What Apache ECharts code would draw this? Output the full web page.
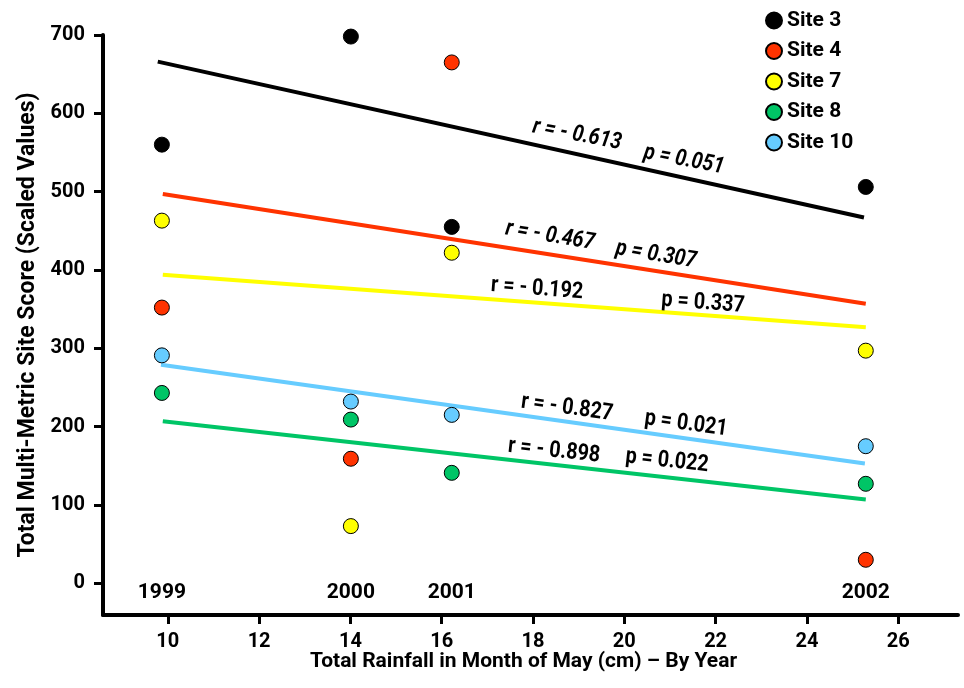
<!DOCTYPE html>
<html>
<head>
<meta charset="utf-8">
<script src="https://cdn.jsdelivr.net/npm/echarts@6/dist/echarts.min.js"></script>
<style>
  html, body { margin: 0; padding: 0; background: #fff; }
  #chart { width: 964px; height: 688px; }
</style>
</head>
<body>
<div id="chart"></div>
<script>
// May rainfall (cm) for each survey year
const rainfall = [9.87, 14.01, 16.22, 25.29];
const years = ['1999', '2000', '2001', '2002'];

// Total multi-metric site scores (scaled) per year
const siteNames = ['Site 3', 'Site 4', 'Site 7', 'Site 8', 'Site 10'];
const site3 = [560, 698, 455, 506];
const site4 = [352, 159, 665, 30];
const site7 = [463, 73, 422, 297];
const site8 = [243, 209, 141, 127];
const site10 = [291, 232, 215, 175];

// Trend line end points [rainfall, score]
const trend3 = [[9.78, 666], [25.25, 467]];
const trend4 = [[9.89, 497], [25.29, 357]];
const trend7 = [[9.89, 394], [25.29, 327]];
const trend8 = [[9.89, 207], [25.29, 107]];
const trend10 = [[9.85, 279], [25.27, 153]];

// Correlation statistics
const rStats = ['r = - 0.613', 'r = - 0.467', 'r = - 0.192', 'r = - 0.898', 'r = - 0.827'];
const pStats = ['p = 0.051', 'p = 0.307', 'p = 0.337', 'p = 0.022', 'p = 0.021'];

// Axis ticks
const xTicks = [10, 12, 14, 16, 18, 20, 22, 24, 26];
const yTicks = [0, 100, 200, 300, 400, 500, 600, 700];

const FONT = "Roboto, 'DejaVu Sans Condensed', sans-serif";
const colors = ['#000000', '#ff3300', '#ffff00', '#00c566', '#66ccff'];
const siteData = [site3, site4, site7, site8, site10];
const trends = [trend3, trend4, trend7, trend8, trend10];

// placement of the r / p annotations along each trend line: [cx, cy, angleDeg, italic]
const rPlace = [[577, 135, 10.7, true], [550, 236, 9.5, true], [537, 289, 4.5, false], [554, 451, 6.3, false], [567, 408, 7.8, false]];
const pPlace = [[684, 160, 10.7, true], [656, 255, 9.5, true], [703, 303, 4.5, false], [667, 461, 6.3, false], [686, 424, 7.8, false]];

const chart = echarts.init(document.getElementById('chart'), null, { renderer: 'canvas' });

const series = [];
trends.forEach((t, i) => {
  series.push({
    name: siteNames[i] + ' trend',
    type: 'line',
    data: t,
    symbol: 'none',
    silent: true,
    z: 2,
    lineStyle: { color: colors[i], width: 4 }
  });
});
siteData.forEach((vals, i) => {
  series.push({
    name: siteNames[i],
    type: 'scatter',
    data: rainfall.map((x, j) => [x, vals[j]]),
    symbol: 'circle',
    symbolSize: 15,
    z: 3,
    itemStyle: { color: colors[i], borderColor: '#000', borderWidth: 1, opacity: 1 }
  });
});

const axisFont = { fontFamily: FONT, fontWeight: 'bold', fontSize: 20, color: '#000' };

chart.setOption({
  animation: false,
  backgroundColor: '#fff',
  grid: { left: 103, right: 6, top: 35, bottom: 73, containLabel: false },
  legend: {
    data: siteNames,
    orient: 'vertical',
    left: 760,
    top: 5,
    itemWidth: 16,
    itemHeight: 16,
    itemGap: 9.5,
    icon: 'circle',
    textStyle: { fontFamily: FONT, fontWeight: 'bold', fontSize: 21, color: '#000' },
    selectedMode: false
  },
  xAxis: {
    type: 'value',
    min: 8.58,
    max: 27.31,
    name: 'Total Rainfall in Month of May (cm) \u2013 By Year',
    nameLocation: 'middle',
    nameGap: 36,
    nameMoveOverlap: false,
    nameTextStyle: Object.assign({}, axisFont, { fontSize: 21, padding: [0, 14, 0, 0] }),
    axisLine: { onZero: false, lineStyle: { color: '#000', width: 4 } },
    axisTick: { customValues: xTicks, length: 9, lineStyle: { color: '#000', width: 3 } },
    axisLabel: Object.assign({ customValues: xTicks, margin: 17 }, axisFont),
    splitLine: { show: false }
  },
  yAxis: {
    type: 'value',
    min: -40.5,
    max: 700,
    name: 'Total Multi-Metric Site Score (Scaled Values)',
    nameLocation: 'middle',
    nameGap: 54,
    nameTextStyle: Object.assign({}, axisFont, { fontSize: 23 }),
    axisLine: { onZero: false, lineStyle: { color: '#000', width: 4 } },
    axisTick: { customValues: yTicks, length: 9, lineStyle: { color: '#000', width: 3 } },
    axisLabel: Object.assign({ customValues: yTicks, margin: 18 }, axisFont),
    splitLine: { show: false }
  },
  series: series
});

// year labels above the x axis, and correlation annotations
const graphics = [];
rainfall.forEach((x, i) => {
  const p = chart.convertToPixel({ gridIndex: 0 }, [x, -12.4]);
  graphics.push({
    type: 'text', x: p[0], y: p[1], z: 10,
    style: {
      text: years[i], fill: '#000',
      font: 'bold 21px ' + FONT,
      textAlign: 'center', textVerticalAlign: 'middle', align: 'center', verticalAlign: 'middle'
    }
  });
});
function statText(txt, place) {
  return {
    type: 'text', x: place[0], y: place[1], rotation: -place[2] * Math.PI / 180,
    scaleX: 0.86, z: 10,
    style: {
      text: txt, fill: '#000',
      font: (place[3] ? 'italic ' : '') + 'bold 23px ' + FONT,
      textAlign: 'center', textVerticalAlign: 'middle', align: 'center', verticalAlign: 'middle'
    }
  };
}
rStats.forEach((t, i) => graphics.push(statText(t, rPlace[i])));
pStats.forEach((t, i) => graphics.push(statText(t, pPlace[i])));
chart.setOption({ graphic: graphics });
</script>
</body>
</html>
